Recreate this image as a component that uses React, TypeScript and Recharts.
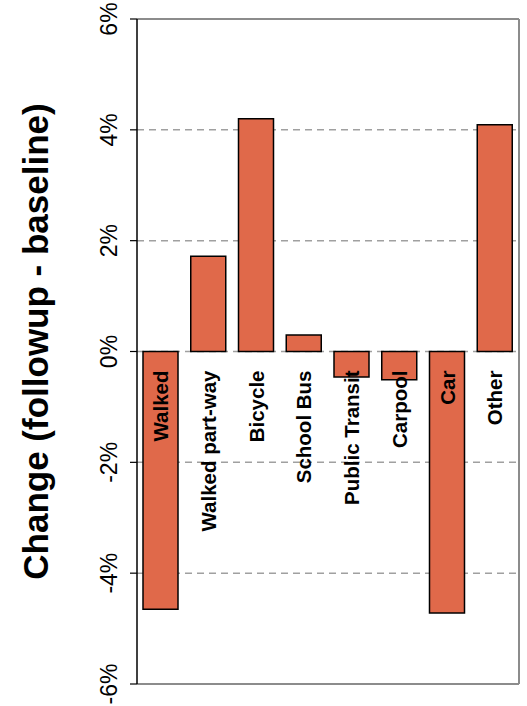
import React from 'react';
import {
  ComposedChart,
  Bar,
  Line,
  XAxis,
  YAxis,
  CartesianGrid,
  LabelList,
  Label
} from 'recharts';

const modes = ['Walked', 'Walked part-way', 'Bicycle', 'School Bus', 'Public Transit', 'Carpool', 'Car', 'Other'];
const changes = [-4.65, 1.72, 4.2, 0.3, -0.46, -0.51, -4.72, 4.09];
const yTicks = [-6, -4, -2, 0, 2, 4, 6];

const data = modes.map((name, i) => ({ name, change: changes[i] }));

const FONT = '"Liberation Sans", Arial, sans-serif';
const GRID = '#a0a0a0';
const BORDER = '#8c8c8c';

const YTick = (props: any) => {
  const { x, y, payload } = props;
  const bx = x - 11;
  return (
    <text
      x={bx}
      y={y}
      transform={`rotate(-90, ${bx}, ${y})`}
      textAnchor="middle"
      fontFamily={FONT}
      fontSize={23}
      fill="#000"
    >
      {`${payload.value}%`}
    </text>
  );
};

// category name, rotated, just under the zero line
const CatLabel = (props: any) => {
  const { x, y, width, height, index, value } = props;
  const v = changes[index];
  const top = Number(y);
  const bottom = Number(y) + Number(height);
  const zeroY = v >= 0 ? Math.max(top, bottom) : Math.min(top, bottom);
  const cx = Number(x) + Number(width) / 2;
  const ty = zeroY + 19;
  return (
    <text
      x={cx}
      y={ty}
      transform={`rotate(-90, ${cx}, ${ty})`}
      textAnchor="end"
      dominantBaseline="central"
      fontFamily={FONT}
      fontWeight="bold"
      fontSize={20.5}
      fill="#000"
    >
      {value}
    </text>
  );
};

const AxisTitle = (props: any) => {
  const { viewBox } = props;
  const tx = viewBox.x + 48;
  const ty = viewBox.y + viewBox.height / 2 - 10;
  return (
    <text
      x={tx}
      y={ty}
      transform={`rotate(-90, ${tx}, ${ty})`}
      textAnchor="middle"
      fontFamily={FONT}
      fontWeight="bold"
      fontSize={35}
      fill="#000"
    >
      Change (followup - baseline)
    </text>
  );
};

export default function App() {
  return (
    <div style={{ position: 'absolute', left: 0, top: 0, width: 527, height: 706, background: '#fff' }}>
      <ComposedChart width={527} height={706} data={data} margin={{ top: 0, right: 0, bottom: 0, left: 0 }}>
        <CartesianGrid yAxisId="left" horizontal vertical={false} stroke={GRID} strokeDasharray="7 5" strokeWidth={1.5} />
        <XAxis dataKey="name" height={22} tick={false} tickLine={false} stroke={BORDER} axisLine={{ stroke: BORDER, strokeWidth: 2 }} />
        <XAxis xAxisId="top" dataKey="name" orientation="top" height={19} tick={false} tickLine={false} stroke={BORDER} axisLine={{ stroke: BORDER, strokeWidth: 2 }} />
        <YAxis
          yAxisId="left"
          width={137}
          domain={[-6, 6]}
          ticks={yTicks}
          tick={<YTick />}
          tickSize={7}
          tickMargin={2}
          stroke="#000"
          axisLine={{ stroke: '#000', strokeWidth: 1.5 }}
          tickLine={{ stroke: '#000', strokeWidth: 1.2 }}
          interval={0}
        >
          <Label content={<AxisTitle />} />
        </YAxis>
        <YAxis
          yAxisId="right"
          orientation="right"
          width={8}
          domain={[-6, 6]}
          ticks={yTicks}
          tick={false}
          tickLine={false}
          stroke={BORDER}
          axisLine={{ stroke: BORDER, strokeWidth: 2 }}
        />
        <Bar
          yAxisId="left"
          dataKey="change"
          fill="#E0694A"
          stroke="#000"
          strokeWidth={1.5}
          barSize={35}
          isAnimationActive={false}
        >
          <LabelList dataKey="name" content={<CatLabel />} />
        </Bar>
        {/* invisible series so the top and right border axes get drawn */}
        <Line xAxisId="top" yAxisId="right" dataKey="change" stroke="none" dot={false} activeDot={false} isAnimationActive={false} />
      </ComposedChart>
    </div>
  );
}
